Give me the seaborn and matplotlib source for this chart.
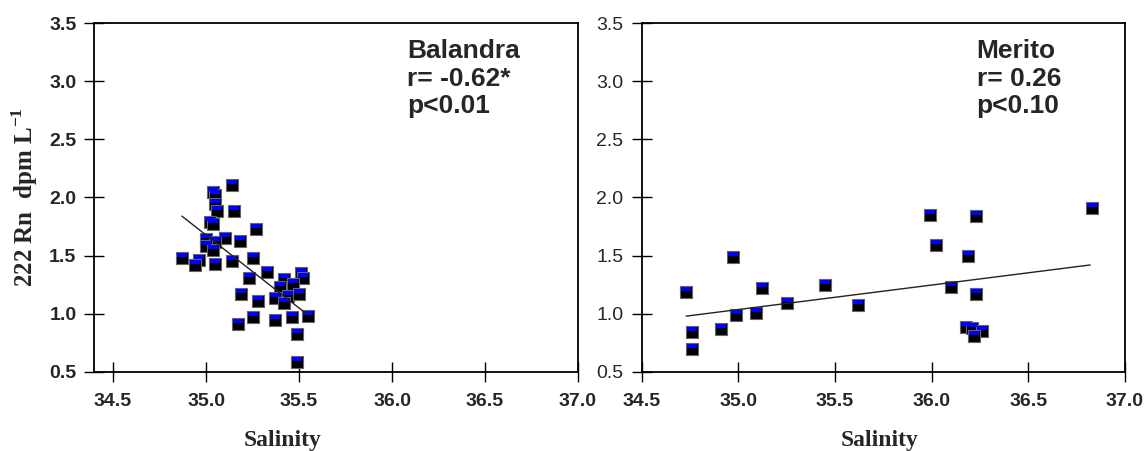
import numpy as np
import pandas as pd
import matplotlib
matplotlib.use("Agg")
import matplotlib.pyplot as plt
import seaborn as sns
from matplotlib.path import Path
from matplotlib.markers import MarkerStyle

# Balandra
bal_sal = [35.14, 35.04, 35.05, 35.05, 35.06, 35.15, 35.02, 35.04, 35.27, 35.10,
           35.00, 35.05, 35.18, 35.00, 35.04, 34.87, 34.96, 34.94, 35.05, 35.14,
           35.25, 35.33, 35.23, 35.51, 35.52, 35.42, 35.47, 35.40, 35.19, 35.28,
           35.37, 35.44, 35.50, 35.42, 35.25, 35.17, 35.37, 35.46, 35.55, 35.49,
           35.49]
bal_rn = [2.11, 2.05, 2.02, 1.94, 1.88, 1.88, 1.79, 1.77, 1.73, 1.65,
          1.64, 1.62, 1.63, 1.58, 1.55, 1.48, 1.46, 1.42, 1.43, 1.45,
          1.48, 1.36, 1.31, 1.35, 1.31, 1.30, 1.26, 1.23, 1.17, 1.11,
          1.14, 1.15, 1.17, 1.09, 0.97, 0.91, 0.95, 0.97, 0.98, 0.83,
          0.59]

# Merito
mer_sal = [34.97, 35.12, 34.99, 35.09, 35.25, 34.91, 35.45, 35.62, 35.99, 36.02,
           36.23, 36.19, 36.10, 36.23, 36.18, 36.21, 36.26, 36.22, 36.83, 34.73,
           34.76, 34.76]
mer_rn = [1.49, 1.22, 0.99, 1.01, 1.09, 0.87, 1.25, 1.08, 1.85, 1.59,
          1.84, 1.50, 1.23, 1.17, 0.89, 0.88, 0.85, 0.81, 1.91, 1.19,
          0.84, 0.70]

# fitted lines
bal_fit_x = [34.87, 35.54]
bal_fit_y = [1.84, 1.00]
mer_fit_x = [34.73, 36.82]
mer_fit_y = [0.98, 1.42]

panels = [
    ("Balandra", "r= -0.62*", "p<0.01", bal_sal, bal_rn, bal_fit_x, bal_fit_y),
    ("Merito", "r= 0.26", "p<0.10", mer_sal, mer_rn, mer_fit_x, mer_fit_y),
]

sns.set_style("white")
plt.rcParams["font.family"] = ["Liberation Sans", "DejaVu Sans"]
plt.rcParams["mathtext.fontset"] = "custom"
plt.rcParams["mathtext.rm"] = "Liberation Serif:bold"
plt.rcParams["mathtext.bf"] = "Liberation Serif:bold"

fig = plt.figure(figsize=(11.45, 4.51), dpi=100)
ax1 = fig.add_axes([0.0825, 0.1752, 0.4223, 0.7738])
ax2 = fig.add_axes([0.5604, 0.1752, 0.4221, 0.7738])

# top half of the square marker in blue
top_half = Path([(-0.42, 0.06), (0.42, 0.06), (0.42, 0.42), (-0.42, 0.42), (0.5, 0.5)],
                [Path.MOVETO, Path.LINETO, Path.LINETO, Path.LINETO, Path.CLOSEPOLY])
top_marker = MarkerStyle(top_half)

for i, (ax, (name, rtxt, ptxt, xs, ys, fx, fy)) in enumerate(zip([ax1, ax2], panels)):
    df = pd.DataFrame({"sal": xs, "rn": ys})
    fit = pd.DataFrame({"sal": fx, "rn": fy})
    sns.lineplot(data=fit, x="sal", y="rn", ax=ax, color="#222222", lw=1.0)
    sns.scatterplot(data=df, x="sal", y="rn", ax=ax, marker="s", s=85,
                    color="black", edgecolor="#666666", linewidth=0.8)
    sns.scatterplot(data=df, x="sal", y="rn", ax=ax, marker=top_marker, s=85,
                    color="#0000ff", linewidth=0)

    ax.set_xlim(34.4 if i == 0 else 34.5, 37.0)
    ax.set_ylim(0.5, 3.5)
    ax.set_xticks(np.arange(34.5, 37.01, 0.5))
    ax.set_yticks(np.arange(0.5, 3.51, 0.5))
    ax.set_xticklabels([f"{v:.1f}" for v in np.arange(34.5, 37.01, 0.5)],
                       fontsize=14, fontweight="bold")
    ax.set_yticklabels([f"{v:.1f}" for v in np.arange(0.5, 3.51, 0.5)],
                       fontsize=14, fontweight="bold" if i == 0 else "normal")
    ax.tick_params(axis="both", direction="inout", length=14, width=1.0,
                   color="black", bottom=True, left=True, top=False, right=False)
    ax.tick_params(axis="x", pad=8)
    ax.tick_params(axis="y", pad=6)
    for sp in ax.spines.values():
        sp.set_color("black")
        sp.set_linewidth(1.3)

    ax.set_xlabel("Salinity", fontsize=17, fontweight="bold",
                  family="Liberation Serif")
    ax.xaxis.set_label_coords(0.39 if i == 0 else 0.493, -0.165)
    ax.set_ylabel("")

    tx = 0.646 if i == 0 else 0.693
    ax.text(tx, 0.955, name + "\n" + rtxt + "\n" + ptxt, transform=ax.transAxes,
            fontsize=19, fontweight="bold", va="top", ha="left", linespacing=1.2)

ax1.set_ylabel(r"222 Rn  dpm L$^{-1}$", fontsize=18, fontweight="bold",
               family="Liberation Serif")
ax1.yaxis.set_label_coords(-0.112, 0.5)

fig.savefig("out.png", dpi=100)
